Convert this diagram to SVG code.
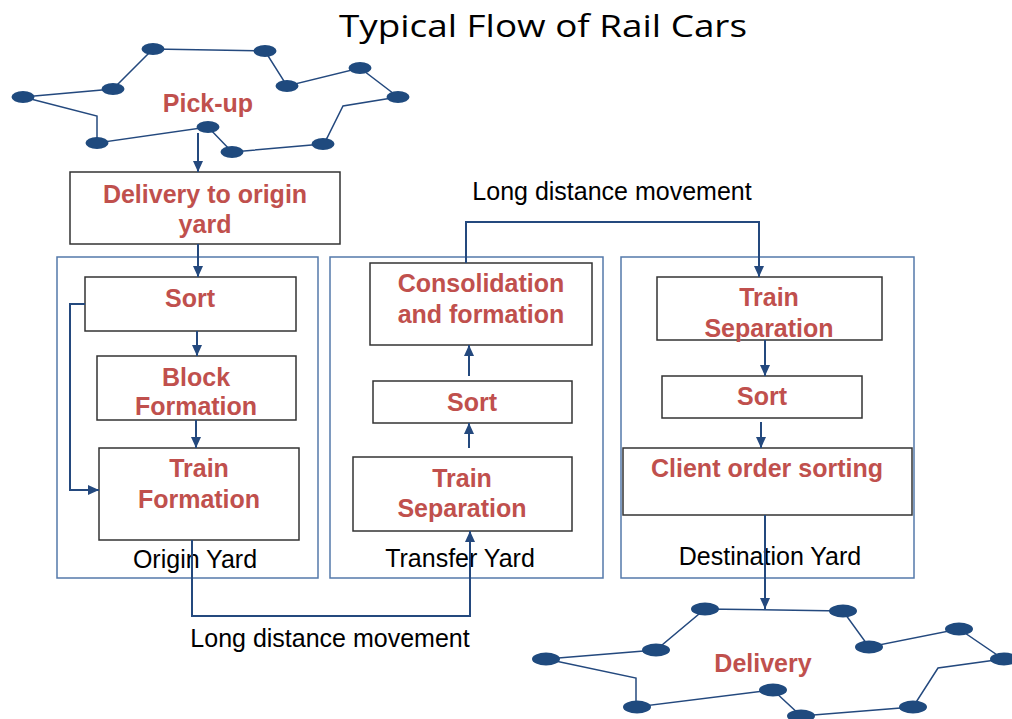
<svg xmlns="http://www.w3.org/2000/svg" width="1012" height="719" viewBox="0 0 1012 719">
<style>
.box{fill:#fff;stroke:#333;stroke-width:1.5}
.yard{fill:none;stroke:#5479AA;stroke-width:1.5}
.red{font-family:"Liberation Sans",Arial,sans-serif;font-weight:bold;font-size:25px;fill:#C0504D;text-anchor:middle}
.blk{font-family:"Liberation Sans",Arial,sans-serif;font-size:25px;fill:#000;text-anchor:middle}
.net{fill:none;stroke:#24497E;stroke-width:1.5}
.nd{fill:#1F4A7E}
.con{fill:none;stroke:#24497E;stroke-width:2}
</style>
<defs>
<marker id="ah" markerUnits="userSpaceOnUse" markerWidth="12" markerHeight="12" viewBox="0 0 12 12" refX="11" refY="6" orient="auto">
<path d="M0,1 L11,6 L0,11 Z" fill="#24497E"/>
</marker>
</defs>
<rect width="1012" height="719" fill="#fff"/>
<text x="543" y="37" font-family="'Open Sans',sans-serif" font-size="31" fill="#000" text-anchor="middle" textLength="408" lengthAdjust="spacingAndGlyphs">Typical Flow of Rail Cars</text>

<g id="pickup-network">
<path class="net" d="M23,97 L113,89 L153,49 L265,51 L287,86 L360,68 L398,97 L343,106 L327,138 L323,144 L232,152 L208,127 L97,143 L97,116 L23,97"/>
<ellipse class="nd" cx="153" cy="49" rx="11.5" ry="6"/>
<ellipse class="nd" cx="265" cy="51" rx="11.5" ry="6"/>
<ellipse class="nd" cx="113" cy="89" rx="11.5" ry="6"/>
<ellipse class="nd" cx="23" cy="97" rx="11.5" ry="6"/>
<ellipse class="nd" cx="287" cy="86" rx="11.5" ry="6"/>
<ellipse class="nd" cx="360" cy="68" rx="11.5" ry="6"/>
<ellipse class="nd" cx="398" cy="97" rx="11.5" ry="6"/>
<ellipse class="nd" cx="97" cy="143" rx="11.5" ry="6"/>
<ellipse class="nd" cx="208" cy="127" rx="11.5" ry="6"/>
<ellipse class="nd" cx="232" cy="152" rx="11.5" ry="6"/>
<ellipse class="nd" cx="323" cy="144" rx="11.5" ry="6"/>
<text class="red" x="208" y="112">Pick-up</text>
</g>

<g id="delivery-network">
<path class="net" d="M546,659 L656,650 L705,609 L843,611 L869,647 L959,629 L1003,659 L938,668 L913,707 L801,716 L773,690 L636,707 L636,678 L546,659"/>
<ellipse class="nd" cx="705" cy="609" rx="14" ry="6.5"/>
<ellipse class="nd" cx="843" cy="611" rx="14" ry="6.5"/>
<ellipse class="nd" cx="656" cy="650" rx="14" ry="6.5"/>
<ellipse class="nd" cx="546" cy="659" rx="14" ry="6.5"/>
<ellipse class="nd" cx="869" cy="647" rx="14" ry="6.5"/>
<ellipse class="nd" cx="959" cy="629" rx="14" ry="6.5"/>
<ellipse class="nd" cx="1004" cy="659" rx="14" ry="6.5"/>
<ellipse class="nd" cx="773" cy="690" rx="14" ry="6.5"/>
<ellipse class="nd" cx="637" cy="707" rx="14" ry="6.5"/>
<ellipse class="nd" cx="801" cy="716" rx="14" ry="6.5"/>
<ellipse class="nd" cx="913" cy="707" rx="14" ry="6.5"/>
<text class="red" x="763" y="672">Delivery</text>
</g>

<g id="origin-yard">
<rect class="yard" x="57" y="257" width="261" height="321"/>
<text class="blk" x="195" y="568">Origin Yard</text>
</g>
<g id="transfer-yard">
<rect class="yard" x="330" y="257" width="273" height="321"/>
<text class="blk" x="460" y="567">Transfer Yard</text>
</g>
<g id="destination-yard">
<rect class="yard" x="621" y="257" width="293" height="321"/>
<text class="blk" x="770" y="565">Destination Yard</text>
</g>

<g id="delivery-to-origin">
<rect class="box" x="70" y="172" width="270" height="72"/>
<text class="red" x="205" y="203">Delivery to origin</text>
<text class="red" x="205" y="233">yard</text>
</g>
<g id="origin-sort">
<rect class="box" x="85" y="277" width="211" height="54"/>
<text class="red" x="190" y="307">Sort</text>
</g>
<g id="block-formation">
<rect class="box" x="97" y="356" width="199" height="64"/>
<text class="red" x="196" y="386">Block</text>
<text class="red" x="196" y="415">Formation</text>
</g>
<g id="train-formation">
<rect class="box" x="99" y="448" width="200" height="92"/>
<text class="red" x="199" y="477">Train</text>
<text class="red" x="199" y="508">Formation</text>
</g>

<g id="consolidation">
<rect class="box" x="370" y="263" width="222" height="82"/>
<text class="red" x="481" y="292">Consolidation</text>
<text class="red" x="481" y="323">and formation</text>
</g>
<g id="transfer-sort">
<rect class="box" x="373" y="381" width="199" height="42"/>
<text class="red" x="472" y="411">Sort</text>
</g>
<g id="transfer-train-separation">
<rect class="box" x="353" y="457" width="219" height="74"/>
<text class="red" x="462" y="487">Train</text>
<text class="red" x="462" y="517">Separation</text>
</g>

<g id="dest-train-separation">
<rect class="box" x="657" y="277" width="225" height="63"/>
<text class="red" x="769" y="306">Train</text>
<text class="red" x="769" y="337">Separation</text>
</g>
<g id="dest-sort">
<rect class="box" x="662" y="376" width="200" height="42"/>
<text class="red" x="762" y="405">Sort</text>
</g>
<g id="client-order-sorting">
<rect class="box" x="623" y="448" width="289" height="67"/>
<text class="red" x="767" y="477">Client order sorting</text>
</g>

<g id="connectors">
<path class="con" d="M198,133 L198,172" marker-end="url(#ah)"/>
<path class="con" d="M198,244 L198,277" marker-end="url(#ah)"/>
<path class="con" d="M197,331 L197,356" marker-end="url(#ah)"/>
<path class="con" d="M196,420 L196,448" marker-end="url(#ah)"/>
<path class="con" d="M85,304 L70,304 L70,490 L99,490" marker-end="url(#ah)"/>
<path class="con" d="M192,540 L192,616 L470,616 L470,531" marker-end="url(#ah)"/>
<path class="con" d="M469,448 L469,423" marker-end="url(#ah)"/>
<path class="con" d="M469,376 L469,345" marker-end="url(#ah)"/>
<path class="con" d="M466,263 L466,222 L759,222 L759,277" marker-end="url(#ah)"/>
<path class="con" d="M765,340 L765,376" marker-end="url(#ah)"/>
<path class="con" d="M761,422 L761,448" marker-end="url(#ah)"/>
<path class="con" d="M765,515 L765,609" marker-end="url(#ah)"/>
<text class="blk" x="612" y="200">Long distance movement</text>
<text class="blk" x="330" y="647">Long distance movement</text>
</g>
</svg>
